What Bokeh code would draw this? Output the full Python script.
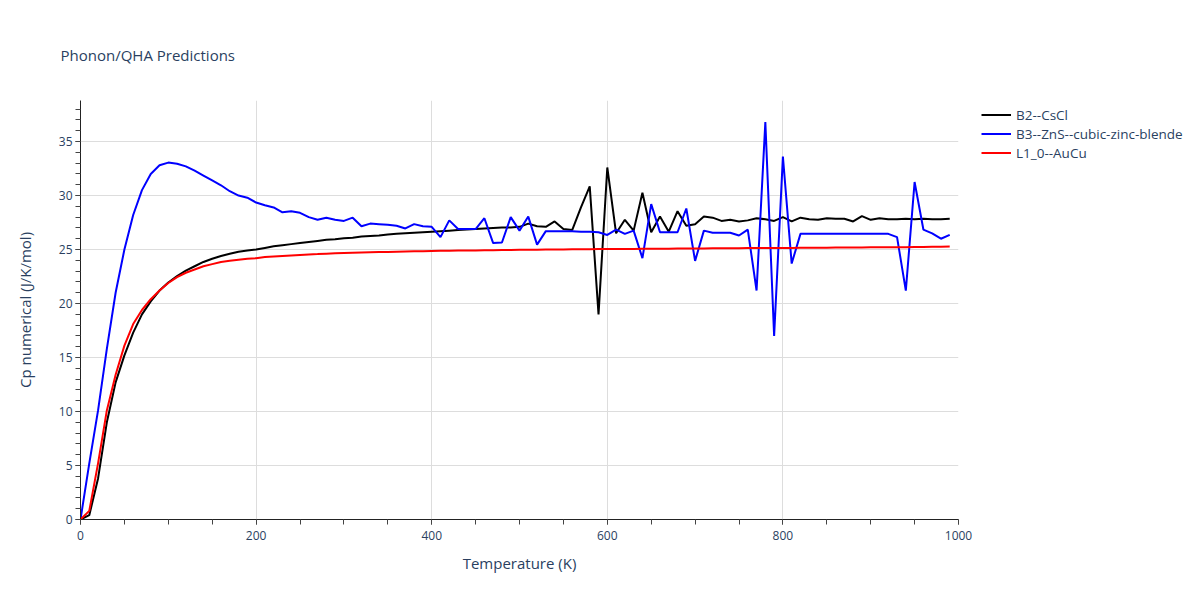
from bokeh.plotting import figure
from bokeh.models import Range1d, FixedTicker, Legend, LegendItem, Title
from bokeh.embed import file_html
from bokeh.resources import INLINE

temperature = list(range(0, 1000, 10))

b2_cscl = [0.0, 0.4, 3.8, 9.0, 12.7, 15.2, 17.3, 19.0, 20.2, 21.2,
           21.95, 22.55, 23.05, 23.45, 23.85, 24.15, 24.4, 24.6, 24.8, 24.9,
           25.0, 25.15, 25.3, 25.4, 25.5, 25.6, 25.7, 25.8, 25.9, 25.95,
           26.05, 26.1, 26.2, 26.25, 26.3, 26.4, 26.45, 26.5, 26.55, 26.6,
           26.65, 26.7, 26.75, 26.8, 26.85, 26.9, 26.95, 27.0, 27.05, 27.05,
           27.1, 27.4, 27.15, 27.1, 27.6, 26.9, 26.8, 28.9, 30.85, 19.0,
           32.6, 26.5, 27.75, 26.75, 30.25, 26.6, 28.05, 26.65, 28.55, 27.2,
           27.35, 28.05, 27.95, 27.65, 27.75, 27.6, 27.7, 27.9, 27.8, 27.65,
           28.0, 27.6, 27.95, 27.8, 27.75, 27.9, 27.85, 27.85, 27.6, 28.1,
           27.75, 27.9, 27.8, 27.8, 27.85, 27.8, 27.85, 27.8, 27.8, 27.85]

b3_zns = [0.0, 5.2, 10.1, 15.8, 21.0, 25.0, 28.2, 30.5, 32.0, 32.8,
          33.05, 32.95, 32.7, 32.3, 31.85, 31.4, 30.95, 30.4, 30.0, 29.8,
          29.35, 29.1, 28.9, 28.45, 28.55, 28.4, 28.0, 27.75, 27.95, 27.75,
          27.65, 27.95, 27.15, 27.4, 27.35, 27.3, 27.2, 26.95, 27.35, 27.15,
          27.1, 26.15, 27.7, 26.9, 26.9, 26.9, 27.9, 25.6, 25.65, 28.0,
          26.75, 28.05, 25.45, 26.7, 26.7, 26.7, 26.7, 26.65, 26.65, 26.6,
          26.35, 26.85, 26.45, 26.75, 24.2, 29.2, 26.6, 26.6, 26.6, 28.8,
          23.95, 26.75, 26.55, 26.55, 26.55, 26.3, 26.85, 21.2, 36.8, 17.0,
          33.6, 23.7, 26.45, 26.45, 26.45, 26.45, 26.45, 26.45, 26.45, 26.45,
          26.45, 26.45, 26.45, 26.15, 21.2, 31.25, 26.85, 26.5, 26.0, 26.35]

l10_aucu = [0.0, 0.8, 5.2, 10.1, 13.4, 16.1, 18.1, 19.4, 20.4, 21.2,
            21.9, 22.45, 22.85, 23.15, 23.45, 23.65, 23.85, 23.95, 24.05, 24.15,
            24.2, 24.3, 24.35, 24.4, 24.45, 24.5, 24.55, 24.58, 24.62, 24.65,
            24.68, 24.7, 24.72, 24.74, 24.76, 24.78, 24.8, 24.82, 24.84, 24.85,
            24.87, 24.88, 24.89, 24.9, 24.91, 24.92, 24.93, 24.94, 24.95, 24.96,
            24.97, 24.98, 24.99, 25.0, 25.0, 25.01, 25.02, 25.02, 25.03, 25.04,
            25.04, 25.05, 25.06, 25.06, 25.07, 25.07, 25.08, 25.08, 25.09, 25.09,
            25.1, 25.1, 25.11, 25.11, 25.12, 25.12, 25.13, 25.13, 25.14, 25.14,
            25.15, 25.15, 25.16, 25.16, 25.17, 25.17, 25.18, 25.18, 25.19, 25.19,
            25.2, 25.2, 25.21, 25.21, 25.22, 25.23, 25.24, 25.25, 25.26, 25.27]

series_names = ["B2--CsCl", "B3--ZnS--cubic-zinc-blende", "L1_0--AuCu"]
series_colors = ["black", "blue", "red"]

TEXT = "#2a3f5f"
FONT = "Open Sans"

p = figure(frame_width=878, frame_height=419, output_backend="svg", toolbar_location=None,
           x_range=Range1d(0, 1000), y_range=Range1d(0, 38.8),
           min_border_left=80, min_border_right=226, min_border_top=100, min_border_bottom=65,
           title=None)
p.outline_line_color = None
p.background_fill_color = "white"

renderers = []
for ys, c in zip([b2_cscl, b3_zns, l10_aucu], series_colors):
    r = p.line(temperature, ys, line_color=c, line_width=2)
    renderers.append(r)

# axes
p.xaxis.ticker = FixedTicker(ticks=list(range(0, 1001, 200)), minor_ticks=list(range(0, 1001, 50)))
p.yaxis.ticker = FixedTicker(ticks=list(range(0, 36, 5)), minor_ticks=list(range(0, 39, 1)))
for ax in [p.xaxis[0], p.yaxis[0]]:
    ax.axis_line_color = "#222222"
    ax.axis_line_width = 1
    ax.major_tick_line_color = "#444444"
    ax.minor_tick_line_color = "#444444"
    ax.major_tick_in = 0
    ax.minor_tick_in = 0
    ax.major_tick_out = 5
    ax.minor_tick_out = 5
    ax.major_label_text_color = TEXT
    ax.major_label_text_font = FONT
    ax.major_label_text_font_size = "12px"
    ax.axis_label_text_color = TEXT
    ax.axis_label_text_font = FONT
    ax.axis_label_text_font_size = "15px"
    ax.axis_label_text_font_style = "normal"
p.xaxis.axis_label = "Temperature (K)"
p.yaxis.axis_label = "Cp numerical (J/K/mol)"
p.xaxis.major_label_standoff = 6
p.yaxis.major_label_standoff = 3
p.xaxis.axis_label_standoff = 10
p.yaxis.axis_label_standoff = 21

p.xgrid.grid_line_color = "#dddddd"
p.ygrid.grid_line_color = "#dddddd"

legend = Legend(items=[LegendItem(label=n, renderers=[r]) for n, r in zip(series_names, renderers)],
                location=(23, 357), margin=0, padding=0, spacing=0,
                glyph_width=30, glyph_height=19, label_height=19, label_standoff=5,
                label_text_font=FONT, label_text_font_size="13.5px", label_text_color=TEXT,
                border_line_alpha=0, background_fill_alpha=0)
p.add_layout(legend, "right")

title = Title(text="Phonon/QHA Predictions", text_font=FONT, text_font_size="15px",
              text_color=TEXT, text_font_style="normal", align="left", offset=-20,
              standoff=67, vertical_align="top")
p.add_layout(title, "above")

open("out.html", "w").write(file_html(p, INLINE))
